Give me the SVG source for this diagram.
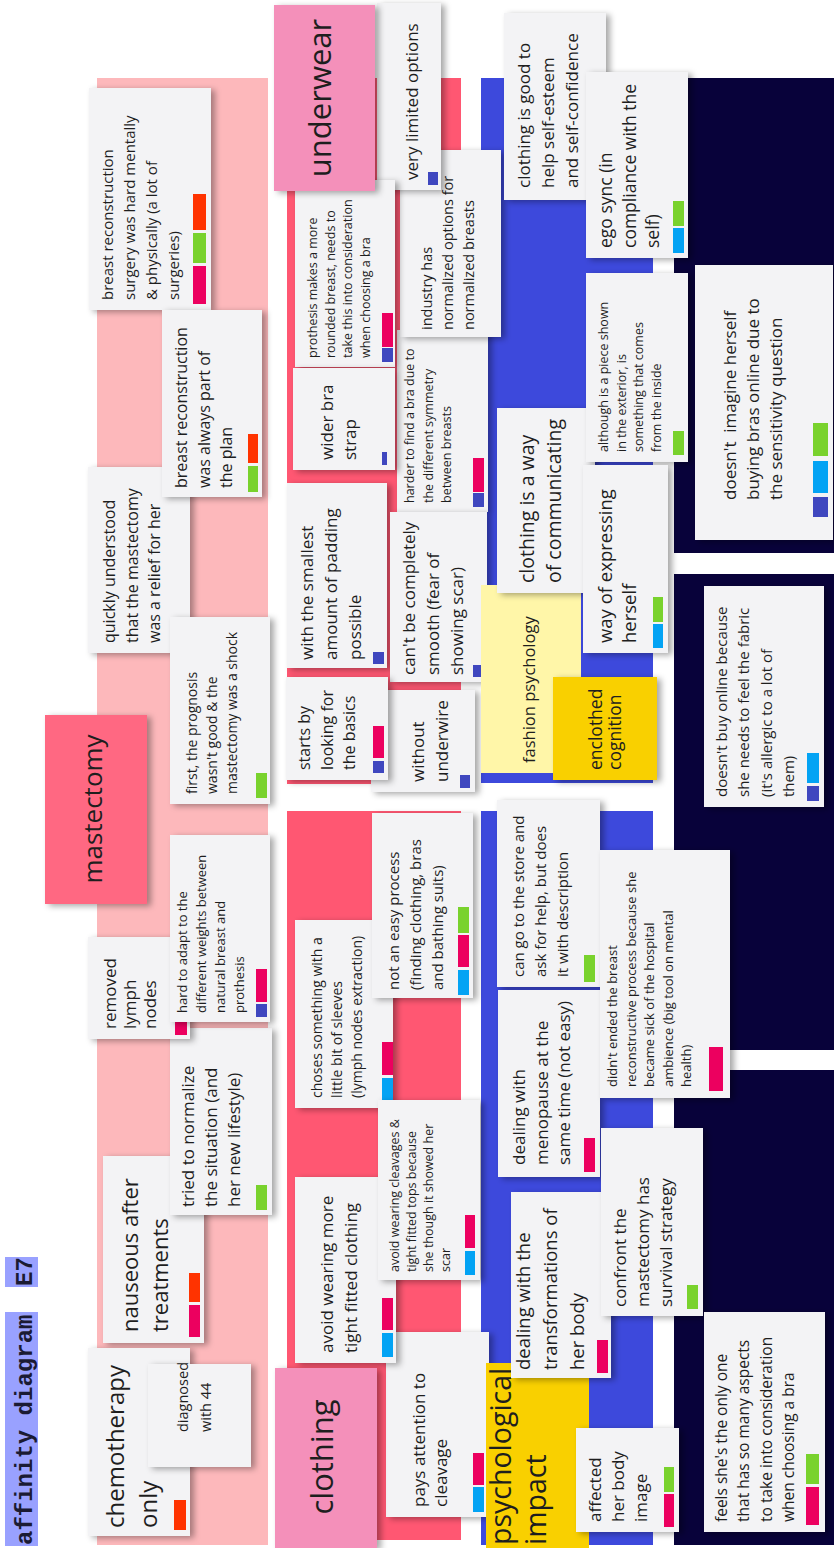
<svg xmlns="http://www.w3.org/2000/svg" width="834" height="1548" viewBox="0 0 834 1548">
<defs>
<filter id="sh" x="-15%" y="-15%" width="140%" height="140%">
<feDropShadow dx="4" dy="2" stdDeviation="3" flood-color="#000" flood-opacity="0.35"/>
</filter>
<style>
.card{fill:#F3F3F5;filter:url(#sh)}
.hdr{filter:url(#sh)}
.t{font-family:"Open Sans","Noto Sans",sans-serif;fill:#1e1e1e}
.mono{font-family:"Liberation Mono","DejaVu Sans Mono",monospace;font-weight:bold;fill:#1b1b33}
.r{fill:#FF3300}.g{fill:#79D22D}.m{fill:#EC005F}.b{fill:#03A3F4}.i{fill:#3F47BF}
</style>
</defs>
<rect width="834" height="1548" fill="#ffffff"/>

<!-- group backgrounds -->
<g id="frames">
<rect x="97" y="78" width="171" height="1467" fill="#FDB8BB"/>
<rect x="287" y="78" width="174" height="706" fill="#FF5772"/>
<rect x="287" y="811" width="174" height="729" fill="#FF5772"/>
<rect x="481" y="78" width="172" height="705" fill="#3D49DC"/>
<rect x="481" y="811" width="172" height="734" fill="#3D49DC"/>
<rect x="674" y="78" width="166" height="475" fill="#08023A"/>
<rect x="674" y="574" width="166" height="476" fill="#08023A"/>
<rect x="674" y="1070" width="166" height="475" fill="#08023A"/>
</g>

<!-- title -->
<g id="title">
<rect x="5" y="1312" width="33" height="234" fill="#99A1FF"/>
<rect x="5" y="1257" width="33" height="30" fill="#99A1FF"/>
<text class="mono" font-size="24" transform="translate(32,1545) rotate(-90)">affinity diagram</text>
<text class="mono" font-size="24" transform="translate(32,1286) rotate(-90)">E7</text>
</g>

<!-- mastectomy column -->
<g id="mastectomy">
<rect class="hdr" x="45" y="715" width="102" height="189" fill="#FF6882"/>
<text class="t" font-size="26" text-anchor="middle" transform="translate(102,809) rotate(-90)">mastectomy</text>
</g>
<g id="c-surgery-hard">
<rect class="card" x="89" y="88" width="122" height="222"/>
<text class="t" font-size="15" transform="translate(113,300) rotate(-90)"><tspan x="0" y="0">breast reconstruction</tspan><tspan x="0" dy="22">surgery was hard mentally</tspan><tspan x="0" dy="22">&amp; physically (a lot of</tspan><tspan x="0" dy="22">surgeries)</tspan></text>
<rect class="r" x="193" y="194" width="13" height="36"/><rect class="g" x="193" y="233" width="13" height="30"/><rect class="m" x="193" y="266" width="13" height="38"/>
</g>
<g id="c-relief">
<rect class="card" x="88" y="467" width="102" height="186"/>
<text class="t" font-size="16" transform="translate(115,643) rotate(-90)"><tspan x="0" y="0">quickly understood</tspan><tspan x="0" dy="22.5">that the mastectomy</tspan><tspan x="0" dy="22.5">was a relief for her</tspan></text>
</g>
<g id="c-always-plan">
<rect class="card" x="162" y="310" width="100" height="187"/>
<text class="t" font-size="16" transform="translate(187,488) rotate(-90)"><tspan x="0" y="0">breast reconstruction</tspan><tspan x="0" dy="22.5">was always part of</tspan><tspan x="0" dy="22.5">the plan</tspan></text>
<rect class="r" x="248" y="434" width="10" height="29"/><rect class="g" x="248" y="466" width="10" height="26"/>
</g>
<g id="c-shock">
<rect class="card" x="170" y="617" width="100" height="187"/>
<text class="t" font-size="14" transform="translate(197,794) rotate(-90)"><tspan x="0" y="0">first, the prognosis</tspan><tspan x="0" dy="20">wasn't good &amp; the</tspan><tspan x="0" dy="20">mastectomy was a shock</tspan></text>
<rect class="g" x="256" y="773" width="11" height="25"/>
</g>
<g id="c-nauseous">
<rect class="card" x="103" y="1156" width="101" height="187"/>
<text class="t" font-size="22" transform="translate(138,1332) rotate(-90)"><tspan x="0" y="0">nauseous after</tspan><tspan x="0" dy="30">treatments</tspan></text>
<rect class="r" x="189" y="1273" width="11" height="29"/><rect class="m" x="189" y="1305" width="11" height="32"/>
</g>
<g id="c-normalize">
<rect class="card" x="170" y="1028" width="102" height="187"/>
<text class="t" font-size="17" transform="translate(194,1207) rotate(-90)"><tspan x="0" y="0">tried to normalize</tspan><tspan x="0" dy="23">the situation (and</tspan><tspan x="0" dy="23">her new lifestyle)</tspan></text>
<rect class="g" x="256" y="1185" width="11" height="25"/>
</g>
<g id="c-lymph">
<rect class="card" x="88" y="937" width="102" height="102"/>
<text class="t" font-size="17" transform="translate(116,1029) rotate(-90)"><tspan x="0" y="0">removed</tspan><tspan x="0" dy="20">lymph</tspan><tspan x="0" dy="20">nodes</tspan></text>
<rect class="m" x="175" y="1022" width="12" height="13"/>
</g>
<g id="c-weights">
<rect class="card" x="170" y="835" width="100" height="187"/>
<text class="t" font-size="13" transform="translate(187,1013) rotate(-90)"><tspan x="0" y="0">hard to adapt to the</tspan><tspan x="0" dy="19">different weights between</tspan><tspan x="0" dy="19">natural breast and</tspan><tspan x="0" dy="19">prothesis</tspan></text>
<rect class="m" x="256" y="969" width="11" height="33"/><rect class="i" x="256" y="1004" width="11" height="13"/>
</g>
<g id="c-chemo">
<rect class="card" x="88" y="1348" width="102" height="188"/>
<text class="t" font-size="24" transform="translate(124,1528) rotate(-90)"><tspan x="0" y="0">chemotherapy</tspan><tspan x="0" dy="33">only</tspan></text>
<rect class="r" x="174" y="1500" width="12" height="30"/>
</g>
<g id="c-diagnosed">
<rect class="card" x="148" y="1364" width="103" height="103"/>
<text class="t" font-size="14.5" transform="translate(188,1432) rotate(-90)"><tspan x="0" y="0">diagnosed</tspan><tspan x="0" dy="23">with 44</tspan></text>
</g>

<!-- underwear column -->
<g id="u-harder">
<rect class="card" x="397" y="330" width="91" height="182"/>
<text class="t" font-size="12.5" transform="translate(414,503) rotate(-90)"><tspan x="0" y="0">harder to find a bra due to</tspan><tspan x="0" dy="18.5">the different symmetry</tspan><tspan x="0" dy="18.5">between breasts</tspan></text>
<rect class="m" x="473" y="458" width="11" height="34"/><rect class="i" x="473" y="493" width="11" height="14"/>
</g>
<g id="u-industry">
<rect class="card" x="400" y="150" width="101" height="187"/>
<text class="t" font-size="14.5" transform="translate(432,330) rotate(-90)"><tspan x="0" y="0">industry has</tspan><tspan x="0" dy="21">normalized options for</tspan><tspan x="0" dy="21">normalized breasts</tspan></text>
</g>
<g id="u-limited">
<rect class="card" x="377" y="3" width="64" height="187"/>
<text class="t" font-size="17" transform="translate(418,180) rotate(-90)">very limited options</text>
<rect class="i" x="428" y="172" width="10" height="13"/>
</g>
<g id="u-prothesis">
<rect class="card" x="295" y="180" width="100" height="187"/>
<text class="t" font-size="12.5" transform="translate(317,358) rotate(-90)"><tspan x="0" y="0">prothesis makes a more</tspan><tspan x="0" dy="17.5">rounded breast, needs to</tspan><tspan x="0" dy="17.5">take this into consideration</tspan><tspan x="0" dy="17.5">when choosing a bra</tspan></text>
<rect class="m" x="382" y="313" width="11" height="34"/><rect class="i" x="382" y="348" width="11" height="14"/>
</g>
<g id="underwear">
<rect class="hdr" x="274" y="5" width="101" height="186" fill="#F490BA"/>
<text class="t" font-size="31" text-anchor="middle" transform="translate(331,98) rotate(-90)">underwear</text>
</g>
<g id="u-strap">
<rect class="card" x="293" y="368" width="102" height="102"/>
<text class="t" font-size="17" transform="translate(333,460) rotate(-90)"><tspan x="0" y="0">wider bra</tspan><tspan x="0" dy="23">strap</tspan></text>
<rect class="i" x="382" y="452" width="5" height="13"/>
</g>
<g id="u-padding">
<rect class="card" x="287" y="483" width="100" height="185"/>
<text class="t" font-size="17" transform="translate(313,660) rotate(-90)"><tspan x="0" y="0">with the smallest</tspan><tspan x="0" dy="24">amount of padding</tspan><tspan x="0" dy="24">possible</tspan></text>
<rect class="i" x="373" y="652" width="11" height="12"/>
</g>
<g id="u-smooth">
<rect class="card" x="390" y="512" width="97" height="170"/>
<text class="t" font-size="17" transform="translate(415,675) rotate(-90)"><tspan x="0" y="0">can't be completely</tspan><tspan x="0" dy="24">smooth (fear of</tspan><tspan x="0" dy="24">showing scar)</tspan></text>
<rect class="i" x="473" y="665" width="11" height="12"/>
</g>
<g id="u-underwire">
<rect class="card" x="371" y="690" width="104" height="102"/>
<text class="t" font-size="17" transform="translate(424,782) rotate(-90)"><tspan x="0" y="0">without</tspan><tspan x="0" dy="24">underwire</tspan></text>
<rect class="i" x="460" y="775" width="10" height="13"/>
</g>
<g id="u-basics">
<rect class="card" x="286" y="677" width="102" height="103"/>
<text class="t" font-size="16" transform="translate(310,770) rotate(-90)"><tspan x="0" y="0">starts by</tspan><tspan x="0" dy="22.5">looking for</tspan><tspan x="0" dy="22.5">the basics</tspan></text>
<rect class="m" x="373" y="726" width="11" height="32"/><rect class="i" x="373" y="761" width="11" height="12"/>
</g>

<!-- clothing column -->
<g id="l-sleeves">
<rect class="card" x="295" y="920" width="98" height="188"/>
<text class="t" font-size="14" transform="translate(322,1098) rotate(-90)"><tspan x="0" y="0">choses something with a</tspan><tspan x="0" dy="20">little bit of sleeves</tspan><tspan x="0" dy="20">(lymph nodes extraction)</tspan></text>
<rect class="m" x="382" y="1042" width="11" height="33"/><rect class="b" x="382" y="1078" width="11" height="24"/>
</g>
<g id="l-process">
<rect class="card" x="372" y="813" width="101" height="185"/>
<text class="t" font-size="15" transform="translate(399,990) rotate(-90)"><tspan x="0" y="0">not an easy process</tspan><tspan x="0" dy="22">(finding clothing, bras</tspan><tspan x="0" dy="22">and bathing suits)</tspan></text>
<rect class="g" x="458" y="907" width="11" height="26"/><rect class="m" x="458" y="935" width="11" height="32"/><rect class="b" x="458" y="970" width="11" height="25"/>
</g>
<g id="l-cleavage">
<rect class="card" x="386" y="1332" width="103" height="185"/>
<text class="t" font-size="17" transform="translate(425,1507) rotate(-90)"><tspan x="0" y="0">pays attention to</tspan><tspan x="0" dy="22">cleavage</tspan></text>
<rect class="m" x="473" y="1453" width="11" height="32"/><rect class="b" x="473" y="1487" width="11" height="25"/>
</g>
<g id="l-tight">
<rect class="card" x="295" y="1177" width="101" height="186"/>
<text class="t" font-size="17" transform="translate(333,1353) rotate(-90)"><tspan x="0" y="0">avoid wearing more</tspan><tspan x="0" dy="24">tight fitted clothing</tspan></text>
<rect class="m" x="382" y="1298" width="11" height="32"/><rect class="b" x="382" y="1333" width="11" height="24"/>
</g>
<g id="l-scar">
<rect class="card" x="378" y="1100" width="102" height="180"/>
<text class="t" font-size="12.5" transform="translate(399,1272) rotate(-90)"><tspan x="0" y="0">avoid wearing cleavages &amp;</tspan><tspan x="0" dy="17">tight fitted tops because</tspan><tspan x="0" dy="17">she though it showed her</tspan><tspan x="0" dy="17">scar</tspan></text>
<rect class="m" x="465" y="1215" width="10" height="33"/><rect class="b" x="465" y="1251" width="10" height="24"/>
</g>
<g id="clothing">
<rect class="hdr" x="275" y="1368" width="102" height="180" fill="#F490BA"/>
<text class="t" font-size="31" text-anchor="middle" transform="translate(333,1457) rotate(-90)">clothing</text>
</g>

<!-- psychological column -->
<g id="fashion-psychology">
<rect x="481" y="585" width="100" height="188" fill="#FFF6A8"/>
<text class="t" font-size="16.5" transform="translate(535,763) rotate(-90)">fashion psychology</text>
</g>
<g id="p-esteem">
<rect class="card" x="504" y="13" width="102" height="187"/>
<text class="t" font-size="17" transform="translate(530,188) rotate(-90)"><tspan x="0" y="0">clothing is good to</tspan><tspan x="0" dy="24">help self-esteem</tspan><tspan x="0" dy="24">and self-confidence</tspan></text>
</g>
<g id="p-ego">
<rect class="card" x="586" y="72" width="102" height="186"/>
<text class="t" font-size="17.5" transform="translate(612,248) rotate(-90)"><tspan x="0" y="0">ego sync (in</tspan><tspan x="0" dy="23.5">compliance with the</tspan><tspan x="0" dy="23.5">self)</tspan></text>
<rect class="g" x="673" y="201" width="11" height="25"/><rect class="b" x="673" y="228" width="11" height="25"/>
</g>
<g id="p-communicating">
<rect class="card" x="497" y="408" width="98" height="185"/>
<text class="t" font-size="19.5" transform="translate(534,583) rotate(-90)"><tspan x="0" y="0">clothing is a way</tspan><tspan x="0" dy="27">of communicating</tspan></text>
</g>
<g id="p-inside">
<rect class="card" x="586" y="273" width="102" height="189"/>
<text class="t" font-size="12.5" transform="translate(608,452) rotate(-90)"><tspan x="0" y="0">although is a piece shown</tspan><tspan x="0" dy="17.5">in the exterior, is</tspan><tspan x="0" dy="17.5">something that comes</tspan><tspan x="0" dy="17.5">from the inside</tspan></text>
<rect class="g" x="673" y="431" width="11" height="24"/>
</g>
<g id="p-expressing">
<rect class="card" x="583" y="465" width="85" height="188"/>
<text class="t" font-size="18.5" transform="translate(612,643) rotate(-90)"><tspan x="0" y="0">way of expressing</tspan><tspan x="0" dy="24">herself</tspan></text>
<rect class="g" x="653" y="597" width="10" height="25"/><rect class="b" x="653" y="624" width="10" height="24"/>
</g>
<g id="enclothed-cognition">
<rect class="hdr" x="553" y="677" width="104" height="103" fill="#F9D000"/>
<text class="t" font-size="17.5" transform="translate(602,770) rotate(-90)"><tspan x="0" y="0">enclothed</tspan><tspan x="0" dy="18.5">cognition</tspan></text>
</g>
<g id="p-store">
<rect class="card" x="497" y="800" width="103" height="187"/>
<text class="t" font-size="15" transform="translate(524,977) rotate(-90)"><tspan x="0" y="0">can go to the store and</tspan><tspan x="0" dy="22">ask for help, but does</tspan><tspan x="0" dy="22">it with description</tspan></text>
<rect class="g" x="584" y="955" width="11" height="27"/>
</g>
<g id="p-menopause">
<rect class="card" x="498" y="990" width="102" height="187"/>
<text class="t" font-size="17" transform="translate(525,1165) rotate(-90)"><tspan x="0" y="0">dealing with</tspan><tspan x="0" dy="22.5">menopause at the</tspan><tspan x="0" dy="22.5">same time (not easy)</tspan></text>
<rect class="m" x="584" y="1138" width="11" height="34"/>
</g>
<g id="p-hospital">
<rect class="card" x="600" y="850" width="130" height="248"/>
<text class="t" font-size="13" transform="translate(617,1087) rotate(-90)"><tspan x="0" y="0">didn't ended the breast</tspan><tspan x="0" dy="18.5">reconstructive process because she</tspan><tspan x="0" dy="18.5">became sick of the hospital</tspan><tspan x="0" dy="18.5">ambience (big tool on mental</tspan><tspan x="0" dy="18.5">health)</tspan></text>
<rect class="m" x="709" y="1047" width="14" height="44"/>
</g>
<g id="psychological-impact">
<rect x="486" y="1363" width="103" height="185" fill="#F9D000"/>
<text class="t" font-size="28.5" transform="translate(511,1545) rotate(-90)"><tspan x="0" y="0">psychological</tspan><tspan x="0" dy="35">impact</tspan></text>
</g>
<g id="p-transformations">
<rect class="card" x="511" y="1192" width="100" height="186"/>
<text class="t" font-size="18.5" transform="translate(530,1370) rotate(-90)"><tspan x="0" y="0">dealing with the</tspan><tspan x="0" dy="27">transformations of</tspan><tspan x="0" dy="27">her body</tspan></text>
<rect class="m" x="597" y="1340" width="11" height="33"/>
</g>
<g id="p-survival">
<rect class="card" x="601" y="1128" width="102" height="188"/>
<text class="t" font-size="17" transform="translate(626,1307) rotate(-90)"><tspan x="0" y="0">confront the</tspan><tspan x="0" dy="23">mastectomy has</tspan><tspan x="0" dy="23">survival strategy</tspan></text>
<rect class="g" x="687" y="1285" width="11" height="24"/>
</g>
<g id="p-body-image">
<rect class="card" x="576" y="1428" width="103" height="104"/>
<text class="t" font-size="17" transform="translate(601,1522) rotate(-90)"><tspan x="0" y="0">affected</tspan><tspan x="0" dy="23">her body</tspan><tspan x="0" dy="23">image</tspan></text>
<rect class="g" x="664" y="1467" width="10" height="25"/><rect class="m" x="664" y="1494" width="10" height="33"/>
</g>

<!-- purchasing column -->
<g id="n-online-sensitivity">
<rect class="card" x="695" y="265" width="138" height="275"/>
<text class="t" font-size="17" xml:space="preserve" transform="translate(736,500) rotate(-90)"><tspan x="0" y="0">doesn't  imagine herself</tspan><tspan x="0" dy="23">buying bras online due to</tspan><tspan x="0" dy="23">the sensitivity question</tspan></text>
<rect class="g" x="813" y="423" width="15" height="33"/><rect class="b" x="813" y="461" width="15" height="32"/><rect class="i" x="813" y="497" width="15" height="20"/>
</g>
<g id="n-fabric">
<rect class="card" x="704" y="586" width="120" height="221"/>
<text class="t" font-size="15" transform="translate(727,797) rotate(-90)"><tspan x="0" y="0">doesn't buy online because</tspan><tspan x="0" dy="22.3">she needs to feel the fabric</tspan><tspan x="0" dy="22.3">(it's allergic to a lot of</tspan><tspan x="0" dy="22.3">them)</tspan></text>
<rect class="b" x="807" y="753" width="12" height="30"/><rect class="i" x="807" y="786" width="12" height="15"/>
</g>
<g id="n-only-one">
<rect class="card" x="704" y="1312" width="121" height="220"/>
<text class="t" font-size="15.5" transform="translate(727,1522) rotate(-90)"><tspan x="0" y="0">feels she's the only one</tspan><tspan x="0" dy="22.3">that has so many aspects</tspan><tspan x="0" dy="22.3">to take into consideration</tspan><tspan x="0" dy="22.3">when choosing a bra</tspan></text>
<rect class="g" x="806" y="1454" width="13" height="30"/><rect class="m" x="806" y="1487" width="13" height="38"/>
</g>
</svg>
